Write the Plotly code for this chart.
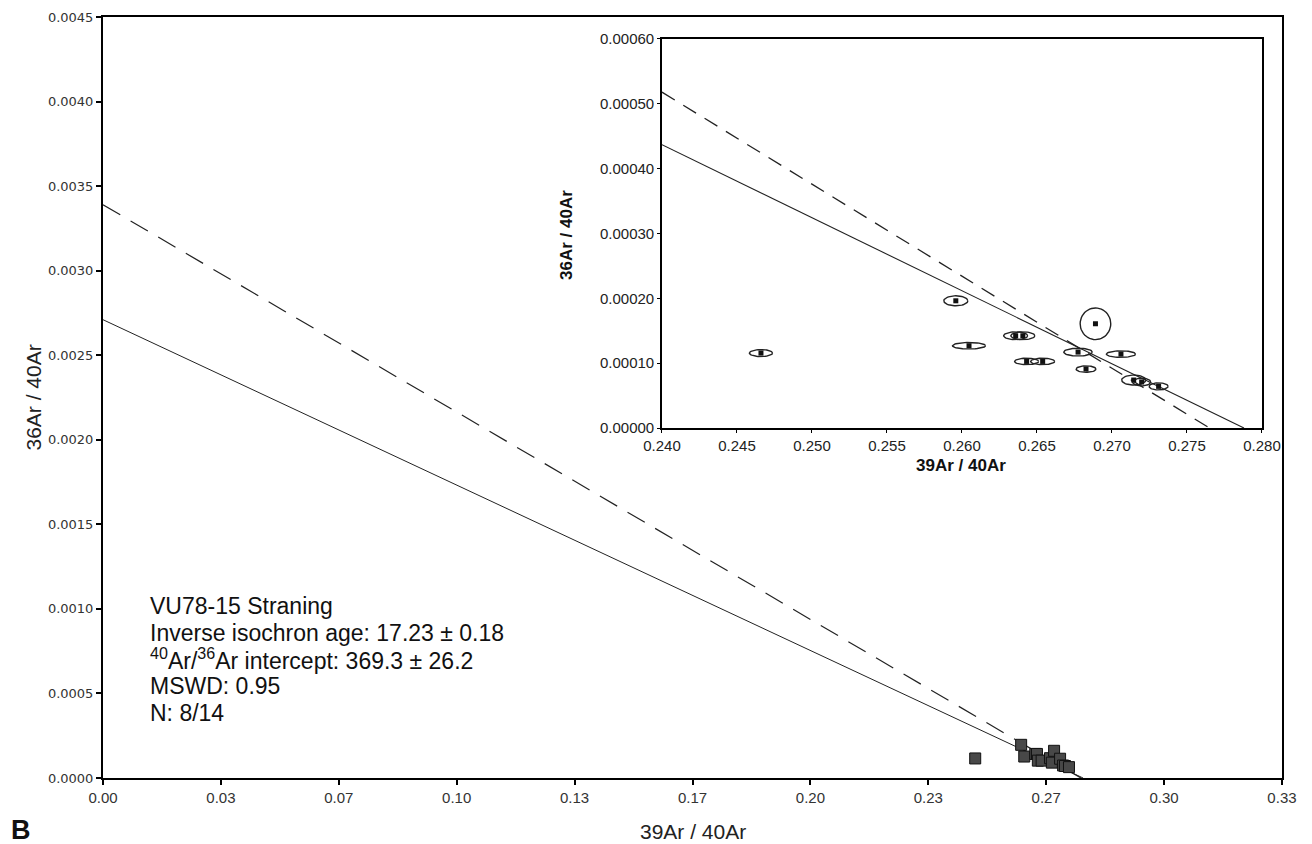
import numpy as np
import plotly.graph_objects as go

# ---------------- data ----------------
x_ratio = [0.24660, 0.25959, 0.26047, 0.26358, 0.26406, 0.26431, 0.26538,
           0.26774, 0.26827, 0.26890, 0.27060, 0.27145, 0.27198, 0.27311]
y_ratio = [0.0001156, 0.0001962, 0.0001269, 0.0001423, 0.0001423, 0.0001027, 0.0001027,
           0.0001171, 0.0000909, 0.0001608, 0.0001140, 0.0000740, 0.0000709, 0.0000642]
x_err = [0.00077, 0.00080, 0.00110, 0.00080, 0.00080, 0.00080, 0.00080,
         0.00095, 0.00066, 0.00102, 0.00097, 0.00080, 0.00060, 0.00063]
y_err = [0.0000054, 0.0000077, 0.0000050, 0.0000060, 0.0000060, 0.0000050, 0.0000050,
         0.0000060, 0.0000050, 0.0000244, 0.0000050, 0.0000077, 0.0000060, 0.0000055]

# isochron lines (main panel)
main_solid_x = [0.0, 0.2771]
main_solid_y = [0.00271, 0.0]
main_dash_x = [0.0, 0.2765]
main_dash_y = [0.00339, 0.0]
# isochron lines (inset panel)
inset_solid_x = [0.24, 0.2788]
inset_solid_y = [0.000437, 0.0]
inset_dash_x = [0.24, 0.2765]
inset_dash_y = [0.000518, 0.0]

main_x_ticks = [0.0, 0.03333, 0.06667, 0.1, 0.13333, 0.16667, 0.2, 0.23333, 0.26667, 0.3, 0.33333]
main_x_labels = ["0.00", "0.03", "0.07", "0.10", "0.13", "0.17", "0.20", "0.23", "0.27", "0.30", "0.33"]

text_lines = [
    "VU78-15 Straning",
    "Inverse isochron age: 17.23 ± 0.18",
    "<sup>40</sup>Ar/<sup>36</sup>Ar intercept: 369.3 ± 26.2",
    "MSWD: 0.95",
    "N: 8/14",
]

# ---------------- figure ----------------
INK = "#222222"
fig = go.Figure()

# main panel
fig.add_trace(go.Scatter(x=main_solid_x, y=main_solid_y, mode="lines",
                         line=dict(color=INK, width=1), xaxis="x", yaxis="y"))
fig.add_trace(go.Scatter(x=main_dash_x, y=main_dash_y, mode="lines",
                         line=dict(color=INK, width=1.2, dash="20px,12px"), xaxis="x", yaxis="y"))
fig.add_trace(go.Scatter(x=x_ratio, y=y_ratio, mode="markers",
                         marker=dict(symbol="square", size=11, color="#484848",
                                     line=dict(color="#111111", width=1)),
                         xaxis="x", yaxis="y"))

# inset panel
fig.add_trace(go.Scatter(x=inset_solid_x, y=inset_solid_y, mode="lines",
                         line=dict(color=INK, width=1.1), xaxis="x2", yaxis="y2"))
fig.add_trace(go.Scatter(x=inset_dash_x, y=inset_dash_y, mode="lines",
                         line=dict(color=INK, width=1.3, dash="15px,10px"), xaxis="x2", yaxis="y2"))

t = np.linspace(0, 2 * np.pi, 49)
ex, ey = [], []
for cx, cy, rx, ry in zip(x_ratio, y_ratio, x_err, y_err):
    ex += list(cx + rx * np.cos(t)) + [None]
    ey += list(cy + ry * np.sin(t)) + [None]
fig.add_trace(go.Scatter(x=ex, y=ey, mode="lines", line=dict(color=INK, width=1.4),
                         xaxis="x2", yaxis="y2"))
fig.add_trace(go.Scatter(x=x_ratio, y=y_ratio, mode="markers",
                         marker=dict(symbol="square", size=5, color="#111111"),
                         xaxis="x2", yaxis="y2"))

ax_common = dict(showgrid=False, zeroline=False, showline=True, mirror=True, automargin=False,
                 linecolor="black", ticks="outside", tickcolor="black")

# the page body adds an 8px offset, so the figure is 8px smaller than the window
fig.update_layout(
    width=1304, height=836,
    margin=dict(l=95, r=30, t=9, b=66, autoexpand=False),
    paper_bgcolor="white", plot_bgcolor="white",
    showlegend=False,
    xaxis=dict(**ax_common, range=[0, 0.33334], tickvals=main_x_ticks, ticktext=main_x_labels,
               linewidth=2, ticklen=5, tickwidth=2,
               tickfont=dict(family="Liberation Sans, Arial", size=15, color="#333")),
    yaxis=dict(**ax_common, range=[0, 0.0045], dtick=0.0005, tickformat=".4f",
               linewidth=2, ticklen=5, tickwidth=2,
               tickfont=dict(family="DejaVu Sans", size=13, color="#333")),
    xaxis2=dict(**ax_common, domain=[0.4741, 0.9830], anchor="y2", range=[0.24, 0.28],
                dtick=0.005, tickformat=".3f", linewidth=1.5, ticklen=3, tickwidth=1,
                tickfont=dict(family="Liberation Sans, Arial", size=15, color="#222")),
    yaxis2=dict(**ax_common, domain=[0.4599, 0.9711], anchor="x2", range=[0, 0.0006],
                dtick=0.0001, tickformat=".5f", linewidth=1.5, ticklen=3, tickwidth=1,
                tickfont=dict(family="Liberation Sans, Arial", size=15, color="#222")),
)

W, H = 1179.0, 761.0
def px(x):
    return (x - 103) / W
def py(y):
    return (778 - y) / H

ann = []
ann.append(dict(text="36Ar / 40Ar", x=px(33), y=0.5, textangle=-90,
                font=dict(family="Liberation Sans, Arial", size=21, color="#222")))
ann.append(dict(text="39Ar / 40Ar", x=0.5, y=py(831),
                font=dict(family="Liberation Sans, Arial", size=21, color="#222")))
ann.append(dict(text="<b>B</b>", x=px(21), y=py(830),
                font=dict(family="Liberation Sans, Arial", size=27, color="#111")))
ann.append(dict(text="<b>36Ar / 40Ar</b>", x=px(566), y=py(235), textangle=-90,
                font=dict(family="Liberation Sans, Arial", size=17, color="#111")))
ann.append(dict(text="<b>39Ar / 40Ar</b>", x=px(961), y=py(465),
                font=dict(family="Liberation Sans, Arial", size=17, color="#111")))
for i, line in enumerate(text_lines):
    ann.append(dict(text=line, x=px(148), y=py(606 + i * 26.7), xanchor="left",
                    font=dict(family="Liberation Sans, Arial", size=23, color="#111")))
for a in ann:
    a.update(xref="paper", yref="paper", showarrow=False)
    a.setdefault("xanchor", "center")
    a.setdefault("yanchor", "middle")
fig.update_layout(annotations=ann)

fig.write_html("out.html")
